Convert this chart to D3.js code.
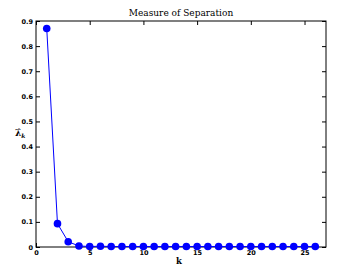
<!DOCTYPE html>
<html><head><meta charset="utf-8">
<script src="https://cdn.jsdelivr.net/npm/d3@7"></script>
<style>body{margin:0;background:#fff}</style>
</head><body>
<svg id="c" width="341" height="268"></svg>
<script>
const ks = d3.range(1, 27);
const lambdas = [0.870, 0.093, 0.021, 0.004, 0.002, 0.003, 0.002, 0.002, 0.002, 0.002, 0.002, 0.002, 0.002,
  0.002, 0.002, 0.002, 0.002, 0.002, 0.002, 0.002, 0.002, 0.002, 0.002, 0.002, 0.002, 0.002];
const xTicks = [0, 5, 10, 15, 20, 25];
const yTicks = [0, 0.1, 0.2, 0.3, 0.4, 0.5, 0.6, 0.7, 0.8, 0.9];
const title = "Measure of Separation";

const svg = d3.select("#c");
const L = 36, R = 326, T = 21, B = 247;
const x = d3.scaleLinear().domain([0, 27]).range([L, R]);
const y = d3.scaleLinear().domain([0, 0.9]).range([B, T]);

const fmtY = d => d === 0 ? "0" : d3.format(".1f")(d);
const tickStyle = g => {
  g.selectAll("text").attr("font-family", "DejaVu Sans, sans-serif").attr("font-size", 6.5).attr("font-weight", "bold").attr("fill", "#000");
  g.select(".domain").remove();
  g.selectAll("line").attr("stroke", "#000");
};
svg.append("g").attr("transform", `translate(0,${B})`)
  .call(d3.axisBottom(x).tickValues(xTicks).tickSize(-4).tickPadding(3)).call(tickStyle);
svg.append("g").attr("transform", `translate(0,${T})`)
  .call(d3.axisTop(x).tickValues(xTicks).tickSize(-4).tickFormat("")).call(tickStyle);
svg.append("g").attr("transform", `translate(${L},0)`)
  .call(d3.axisLeft(y).tickValues(yTicks).tickSize(-4).tickPadding(3).tickFormat(fmtY)).call(tickStyle);
svg.append("g").attr("transform", `translate(${R},0)`)
  .call(d3.axisRight(y).tickValues(yTicks).tickSize(-4).tickFormat("")).call(tickStyle);

svg.append("rect").attr("x", L).attr("y", T).attr("width", R - L).attr("height", B - T)
  .attr("fill", "none").attr("stroke", "#000").attr("stroke-width", 1);

const data = ks.map((k, i) => [k, lambdas[i]]);
svg.append("path").datum(data)
  .attr("d", d3.line().x(d => x(d[0])).y(d => y(d[1])))
  .attr("fill", "none").attr("stroke", "#0000ff").attr("stroke-width", 1);
svg.selectAll("circle.p").data(data).join("circle")
  .attr("cx", d => x(d[0])).attr("cy", d => y(d[1])).attr("r", 3.8).attr("fill", "#0000ff");

svg.append("text").attr("x", (L + R) / 2).attr("y", 16).attr("text-anchor", "middle")
  .attr("font-family", "DejaVu Serif, serif").attr("font-size", 9).text(title);
svg.append("text").attr("x", 179).attr("y", 264).attr("text-anchor", "middle")
  .attr("font-family", "DejaVu Serif, serif").attr("font-size", 8.5).attr("font-weight", "bold").text("k");
const yl = svg.append("text").attr("x", 15).attr("y", 136)
  .attr("font-family", "DejaVu Serif, serif").attr("font-size", 9).attr("font-weight", "bold");
yl.append("tspan").text("λ\u0302");
yl.append("tspan").attr("font-size", 6).attr("dy", 2).attr("font-style", "italic").text("k");
</script>
</body></html>
